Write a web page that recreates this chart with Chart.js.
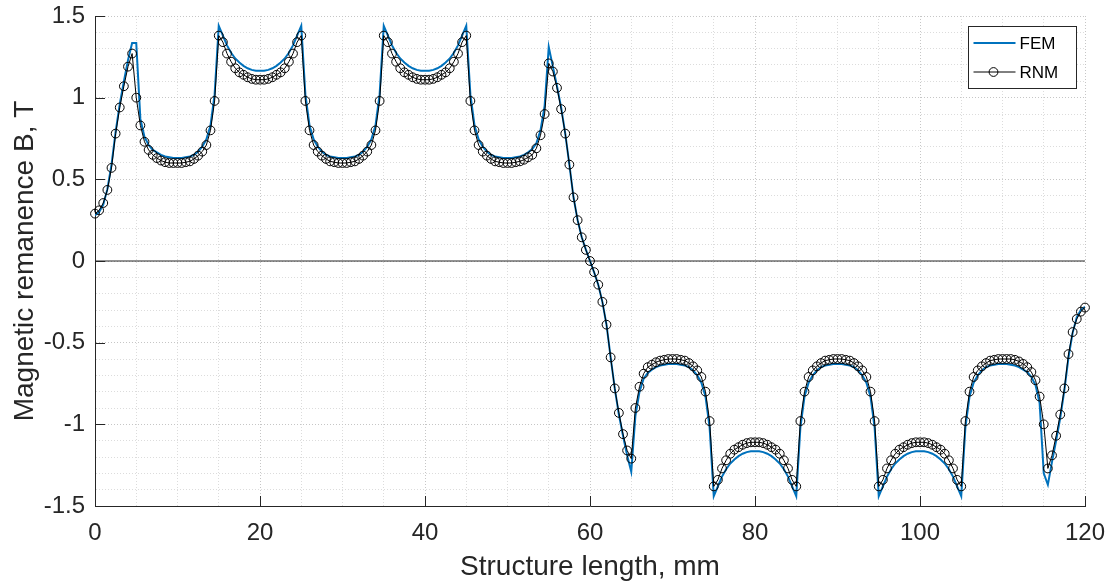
<!DOCTYPE html>
<html>
<head>
<meta charset="utf-8">
<title>Magnetic remanence along the structure</title>
<script src="https://cdn.jsdelivr.net/npm/chart.js@4.4.1/dist/chart.umd.min.js"></script>
<style>
  html, body { margin: 0; padding: 0; background: #ffffff; }
  #wrap { width: 1115px; height: 586px; }
</style>
</head>
<body>
<div id="wrap"><canvas id="remanenceChart" width="1115" height="586"></canvas></div>
<script>
// Sample positions along the structure, mm
const positionMm = [
  0, 0.5, 1, 1.5, 2, 2.5, 3, 3.5, 4, 4.5, 5, 5.5, 6, 6.5, 7, 7.5, 8, 8.5, 9, 9.5,
  10, 10.5, 11, 11.5, 12, 12.5, 13, 13.5, 14, 14.5, 15, 15.5, 16, 16.5, 17, 17.5, 18, 18.5, 19, 19.5,
  20, 20.5, 21, 21.5, 22, 22.5, 23, 23.5, 24, 24.5, 25, 25.5, 26, 26.5, 27, 27.5, 28, 28.5, 29, 29.5,
  30, 30.5, 31, 31.5, 32, 32.5, 33, 33.5, 34, 34.5, 35, 35.5, 36, 36.5, 37, 37.5, 38, 38.5, 39, 39.5,
  40, 40.5, 41, 41.5, 42, 42.5, 43, 43.5, 44, 44.5, 45, 45.5, 46, 46.5, 47, 47.5, 48, 48.5, 49, 49.5,
  50, 50.5, 51, 51.5, 52, 52.5, 53, 53.5, 54, 54.5, 55, 55.5, 56, 56.5, 57, 57.5, 58, 58.5, 59, 59.5,
  60, 60.5, 61, 61.5, 62, 62.5, 63, 63.5, 64, 64.5, 65, 65.5, 66, 66.5, 67, 67.5, 68, 68.5, 69, 69.5,
  70, 70.5, 71, 71.5, 72, 72.5, 73, 73.5, 74, 74.5, 75, 75.5, 76, 76.5, 77, 77.5, 78, 78.5, 79, 79.5,
  80, 80.5, 81, 81.5, 82, 82.5, 83, 83.5, 84, 84.5, 85, 85.5, 86, 86.5, 87, 87.5, 88, 88.5, 89, 89.5,
  90, 90.5, 91, 91.5, 92, 92.5, 93, 93.5, 94, 94.5, 95, 95.5, 96, 96.5, 97, 97.5, 98, 98.5, 99, 99.5,
  100, 100.5, 101, 101.5, 102, 102.5, 103, 103.5, 104, 104.5, 105, 105.5, 106, 106.5, 107, 107.5, 108, 108.5, 109, 109.5,
  110, 110.5, 111, 111.5, 112, 112.5, 113, 113.5, 114, 114.5, 115, 115.5, 116, 116.5, 117, 117.5, 118, 118.5, 119, 119.5,
  120
];

// FEM result, T (one row = 5 mm)
const femB = [
  0.28, 0.30, 0.345, 0.44, 0.59, 0.79, 0.96, 1.10, 1.23, 1.335,
  1.335, 0.87, 0.76, 0.71, 0.68, 0.665, 0.65, 0.64, 0.635, 0.63,
  0.63, 0.63, 0.635, 0.64, 0.65, 0.67, 0.70, 0.745, 0.83, 1.02,
  1.44, 1.38, 1.32, 1.275, 1.24, 1.215, 1.195, 1.18, 1.17, 1.165,
  1.165, 1.165, 1.17, 1.18, 1.195, 1.215, 1.24, 1.275, 1.32, 1.38,
  1.44, 1.02, 0.83, 0.745, 0.70, 0.67, 0.65, 0.64, 0.635, 0.63,
  0.63, 0.63, 0.635, 0.64, 0.65, 0.67, 0.70, 0.745, 0.83, 1.02,
  1.44, 1.38, 1.32, 1.275, 1.24, 1.215, 1.195, 1.18, 1.17, 1.165,
  1.165, 1.165, 1.17, 1.18, 1.195, 1.215, 1.24, 1.275, 1.32, 1.38,
  1.44, 1.02, 0.83, 0.745, 0.70, 0.67, 0.65, 0.64, 0.635, 0.63,
  0.63, 0.63, 0.635, 0.64, 0.65, 0.665, 0.685, 0.72, 0.80, 0.95,
  1.31, 1.19, 1.07, 0.94, 0.78, 0.59, 0.39, 0.25, 0.145, 0.07,
  0.00, -0.07, -0.145, -0.25, -0.39, -0.59, -0.78, -0.94, -1.07, -1.19,
  -1.29, -0.95, -0.80, -0.72, -0.685, -0.665, -0.65, -0.64, -0.635, -0.63,
  -0.63, -0.63, -0.635, -0.64, -0.65, -0.67, -0.70, -0.745, -0.83, -1.02,
  -1.44, -1.38, -1.32, -1.275, -1.24, -1.215, -1.195, -1.18, -1.17, -1.165,
  -1.165, -1.165, -1.17, -1.18, -1.195, -1.215, -1.24, -1.275, -1.32, -1.38,
  -1.44, -1.02, -0.83, -0.745, -0.70, -0.67, -0.65, -0.64, -0.635, -0.63,
  -0.63, -0.63, -0.635, -0.64, -0.65, -0.67, -0.70, -0.745, -0.83, -1.02,
  -1.44, -1.38, -1.32, -1.275, -1.24, -1.215, -1.195, -1.18, -1.17, -1.165,
  -1.165, -1.165, -1.17, -1.18, -1.195, -1.215, -1.24, -1.275, -1.32, -1.38,
  -1.44, -1.02, -0.83, -0.745, -0.70, -0.67, -0.65, -0.64, -0.635, -0.63,
  -0.63, -0.63, -0.635, -0.64, -0.65, -0.665, -0.68, -0.71, -0.76, -0.87,
  -1.30, -1.37, -1.23, -1.10, -0.96, -0.79, -0.59, -0.44, -0.345, -0.30,
  -0.28
];

// RNM result, T (one row = 5 mm)
const rnmB = [
  0.29, 0.31, 0.355, 0.435, 0.57, 0.78, 0.94, 1.07, 1.19, 1.27,
  1.00, 0.83, 0.73, 0.68, 0.65, 0.63, 0.615, 0.605, 0.60, 0.60,
  0.60, 0.60, 0.605, 0.61, 0.625, 0.645, 0.67, 0.71, 0.80, 0.98,
  1.38, 1.34, 1.27, 1.22, 1.18, 1.155, 1.14, 1.125, 1.115, 1.11,
  1.11, 1.11, 1.115, 1.125, 1.14, 1.155, 1.18, 1.22, 1.27, 1.34,
  1.38, 0.98, 0.80, 0.71, 0.67, 0.645, 0.625, 0.61, 0.605, 0.60,
  0.60, 0.60, 0.605, 0.61, 0.625, 0.645, 0.67, 0.71, 0.80, 0.98,
  1.38, 1.34, 1.27, 1.22, 1.18, 1.155, 1.14, 1.125, 1.115, 1.11,
  1.11, 1.11, 1.115, 1.125, 1.14, 1.155, 1.18, 1.22, 1.27, 1.34,
  1.38, 0.98, 0.80, 0.71, 0.67, 0.645, 0.625, 0.61, 0.605, 0.60,
  0.60, 0.60, 0.605, 0.61, 0.62, 0.635, 0.65, 0.69, 0.77, 0.90,
  1.21, 1.16, 1.06, 0.93, 0.78, 0.59, 0.39, 0.25, 0.145, 0.068,
  0.00, -0.068, -0.145, -0.25, -0.39, -0.59, -0.78, -0.93, -1.06, -1.16,
  -1.21, -0.90, -0.77, -0.69, -0.65, -0.635, -0.62, -0.61, -0.605, -0.60,
  -0.60, -0.60, -0.605, -0.61, -0.625, -0.645, -0.67, -0.71, -0.80, -0.98,
  -1.38, -1.34, -1.27, -1.22, -1.18, -1.155, -1.14, -1.125, -1.115, -1.11,
  -1.11, -1.11, -1.115, -1.125, -1.14, -1.155, -1.18, -1.22, -1.27, -1.34,
  -1.38, -0.98, -0.80, -0.71, -0.67, -0.645, -0.625, -0.61, -0.605, -0.60,
  -0.60, -0.60, -0.605, -0.61, -0.625, -0.645, -0.67, -0.71, -0.80, -0.98,
  -1.38, -1.34, -1.27, -1.22, -1.18, -1.155, -1.14, -1.125, -1.115, -1.11,
  -1.11, -1.11, -1.115, -1.125, -1.14, -1.155, -1.18, -1.22, -1.27, -1.34,
  -1.38, -0.98, -0.80, -0.71, -0.67, -0.645, -0.625, -0.61, -0.605, -0.60,
  -0.60, -0.60, -0.60, -0.605, -0.615, -0.63, -0.65, -0.68, -0.73, -0.83,
  -1.00, -1.27, -1.19, -1.07, -0.94, -0.78, -0.57, -0.435, -0.355, -0.31,
  -0.285
];

// zero reference line
const zeroLineMm = [0, 120];
const zeroLineB = [0, 0];

// labelled ticks
const xMajorTicks = [0, 20, 40, 60, 80, 100, 120];
const yMajorTicks = [-1.5, -1, -0.5, 0, 0.5, 1, 1.5];

const axisColor = "#262626";
const fontFamily = "'Liberation Sans', Arial, Helvetica, sans-serif";

function findMajor(list, v) {
    return list.find(t => Math.abs(t - v) < 1e-6);
}

function gridColor(list) {
    return (ctx) => {
        if (!ctx.tick) return "#d0d0d0";
        return findMajor(list, ctx.tick.value) !== undefined ? "#c6c6c6" : "#dcdcdc";
    };
}

function toPoints(xs, ys) {
    return xs.map((x, i) => ({ x: x, y: ys[i] }));
}

// MATLAB-like ticks pointing into the axes
const innerTicks = {
    id: "innerTicks",
    afterDatasetsDraw(chart) {
        const { ctx, chartArea, scales } = chart;
        ctx.save();
        ctx.strokeStyle = axisColor;
        ctx.lineWidth = 1;
        ctx.beginPath();
        xMajorTicks.forEach(t => {
            const px = Math.round(scales.x.getPixelForValue(t)) + 0.5;
            ctx.moveTo(px, chartArea.bottom);
            ctx.lineTo(px, chartArea.bottom - 10);
        });
        yMajorTicks.forEach(t => {
            const py = Math.round(scales.y.getPixelForValue(t)) + 0.5;
            ctx.moveTo(chartArea.left, py);
            ctx.lineTo(chartArea.left + 10, py);
        });
        ctx.stroke();
        ctx.restore();
    }
};

// boxed legend inside the top right corner
const boxLegend = {
    id: "boxLegend",
    afterDraw(chart) {
        const { ctx, chartArea } = chart;
        const items = chart.data.datasets.filter(d => d.inLegend);
        const w = 108, h = 62;
        const x0 = Math.round(chartArea.right - 117) + 0.5;
        const y0 = Math.round(chartArea.top + 10) + 0.5;

        ctx.save();
        ctx.fillStyle = "#ffffff";
        ctx.fillRect(x0, y0, w, h);
        ctx.strokeStyle = axisColor;
        ctx.lineWidth = 1;
        ctx.strokeRect(x0, y0, w, h);

        ctx.font = "17px " + fontFamily;
        ctx.textAlign = "left";
        ctx.textBaseline = "middle";

        items.forEach((d, i) => {
            const y = y0 + 16.5 + i * 29;
            ctx.strokeStyle = d.borderColor;
            ctx.lineWidth = d.borderWidth;
            ctx.beginPath();
            ctx.moveTo(x0 + 5, y);
            ctx.lineTo(x0 + 47, y);
            ctx.stroke();
            if (d.pointRadius > 0) {
                ctx.lineWidth = d.pointBorderWidth;
                ctx.strokeStyle = d.pointBorderColor;
                ctx.beginPath();
                ctx.arc(x0 + 25, y, d.pointRadius, 0, Math.PI * 2);
                ctx.stroke();
            }
            ctx.fillStyle = "#000000";
            ctx.fillText(d.label, x0 + 51, y + 1);
        });
        ctx.restore();
    }
};

new Chart(document.getElementById("remanenceChart"), {

    type: "line",

    data: {
        datasets: [
            {
                label: "FEM",
                data: toPoints(positionMm, femB),
                borderColor: "#0072BD",
                borderWidth: 2,
                pointRadius: 0,
                order: 1,
                inLegend: true
            },
            {
                label: "RNM",
                data: toPoints(positionMm, rnmB),
                borderColor: "#000000",
                borderWidth: 1,
                pointRadius: 4.4,
                pointBorderWidth: 1,
                pointBorderColor: "#000000",
                pointBackgroundColor: "rgba(0,0,0,0)",
                clip: false,
                order: 0,
                inLegend: true
            },
            {
                label: "zero",
                data: toPoints(zeroLineMm, zeroLineB),
                borderColor: "#262626",
                borderWidth: 1,
                pointRadius: 0,
                order: 2
            }
        ]
    },

    options: {
        responsive: false,
        animation: false,
        devicePixelRatio: 1,
        layout: { padding: { left: 0, right: 30, top: 16, bottom: 0 } },
        elements: { line: { tension: 0 } },
        plugins: {
            legend: { display: false },
            tooltip: { enabled: false }
        },
        scales: {
            x: {
                type: "linear",
                min: 0,
                max: 120,
                afterFit(scale) {
                    scale.height = 80;
                    scale.paddingLeft = 0;
                    scale.paddingRight = 0;
                },
                ticks: {
                    stepSize: 5,
                    autoSkip: false,
                    maxRotation: 0,
                    padding: 13,
                    color: axisColor,
                    font: { family: fontFamily, size: 24 },
                    callback: v => {
                        const t = findMajor(xMajorTicks, v);
                        return t === undefined ? "" : String(t);
                    }
                },
                grid: { color: gridColor(xMajorTicks), lineWidth: 1, drawTicks: false },
                border: { display: true, color: axisColor, width: 1, dash: [1, 2] },
                title: {
                    display: true,
                    text: "Structure length, mm",
                    color: axisColor,
                    font: { family: fontFamily, size: 28 },
                    padding: { top: 0, bottom: 2 }
                }
            },
            y: {
                type: "linear",
                min: -1.5,
                max: 1.5,
                afterFit(scale) {
                    scale.width = 95;
                    scale.paddingTop = 0;
                    scale.paddingBottom = 0;
                },
                ticks: {
                    stepSize: 0.1,
                    autoSkip: false,
                    padding: 10,
                    color: axisColor,
                    font: { family: fontFamily, size: 24 },
                    callback: v => {
                        const t = findMajor(yMajorTicks, v);
                        return t === undefined ? "" : String(t);
                    }
                },
                grid: { color: gridColor(yMajorTicks), lineWidth: 1, drawTicks: false },
                border: { display: true, color: axisColor, width: 1, dash: [1, 2] },
                title: {
                    display: true,
                    text: "Magnetic remanence B, T",
                    color: axisColor,
                    font: { family: fontFamily, size: 28 },
                    padding: { top: 8, bottom: 0 }
                }
            }
        }
    },

    plugins: [innerTicks, boxLegend]

});
</script>
</body>
</html>
